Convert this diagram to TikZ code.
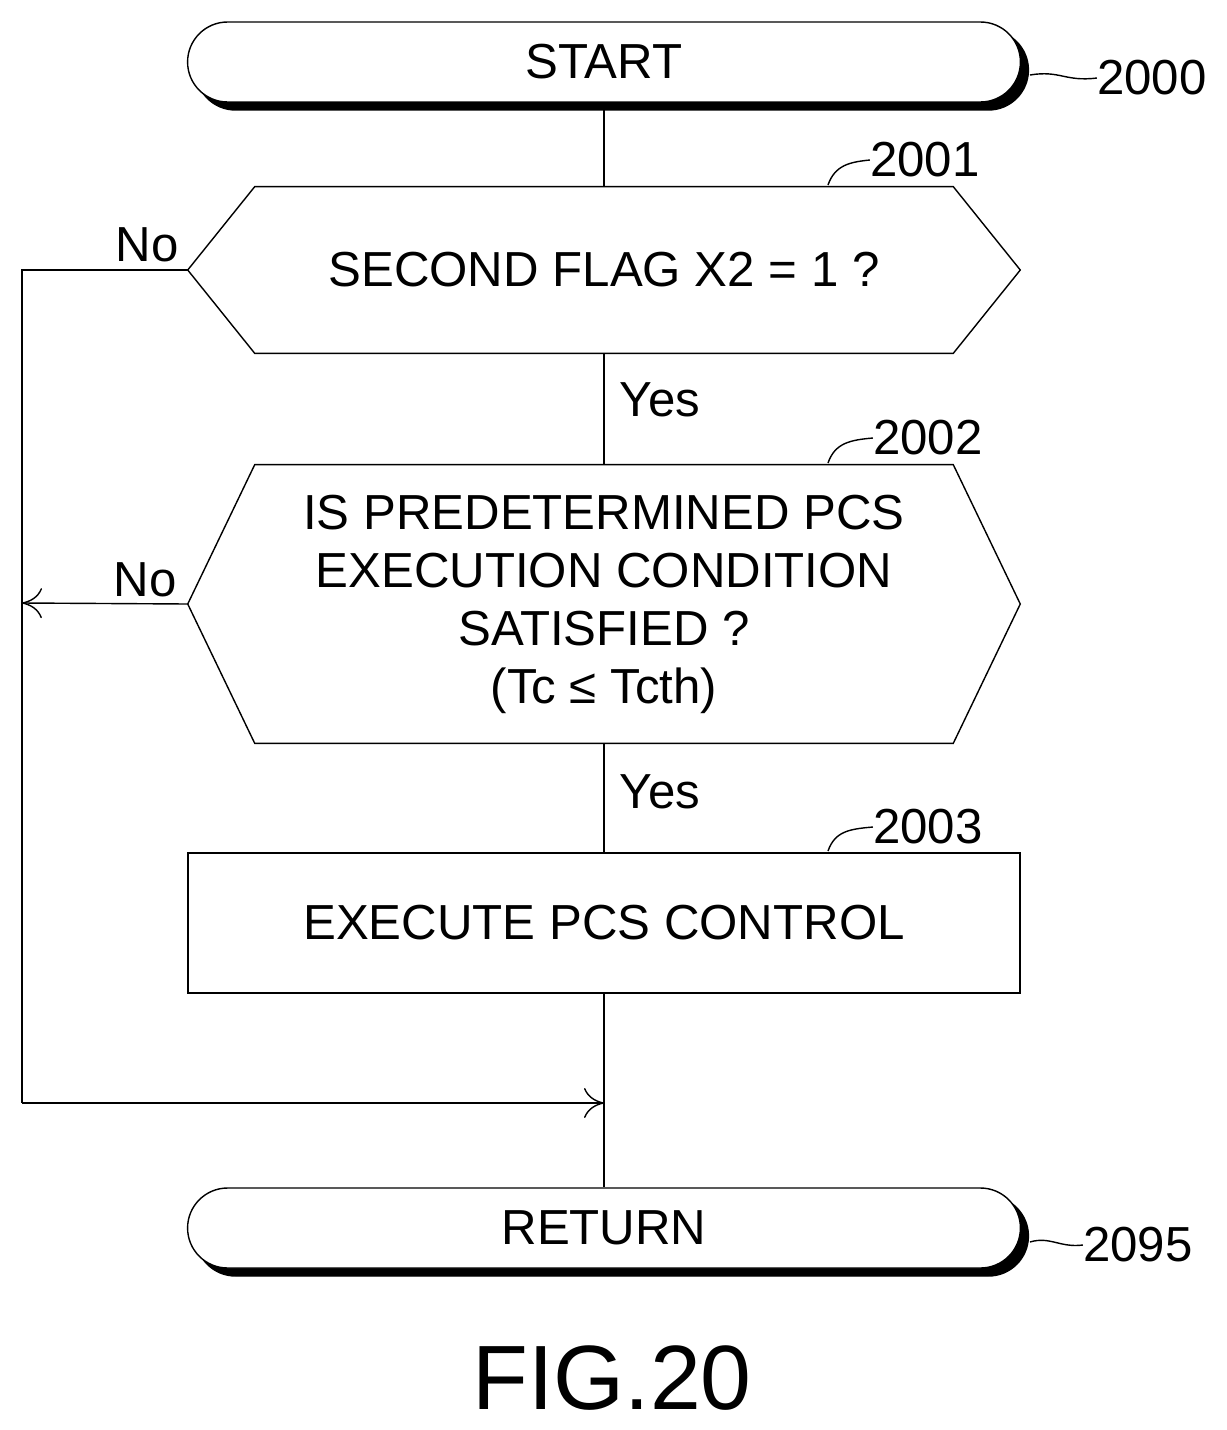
\documentclass[tikz,border=0pt]{standalone}
\usepackage{fontspec}
\setmainfont{Liberation Sans}
\usetikzlibrary{positioning,shapes,arrows.meta}
\begin{document}
\begin{tikzpicture}[x=0.02cm,y=-0.02cm]
            \tikzstyle{terminal}=[rectangle, rounded corners=0.8cm, minimum width=16.66cm, minimum height=1.6cm, inner sep=0pt, thick, draw=black, fill=white, font=\fontsize{28}{30}\selectfont]
            \tikzstyle{decision}=[rectangle, minimum width=16.64cm, inner sep=0pt, font=\fontsize{28}{33}\selectfont, align=center]
            \tikzstyle{process}=[rectangle, minimum width=16.64cm, minimum height=2.8cm, inner sep=0pt, thick, draw=black, font=\fontsize{28}{30}\selectfont]
            \tikzstyle{tag}=[font=\fontsize{28}{30}\selectfont, inner sep=0pt]
            \tikzstyle{connect}=[thick]
            \tikzstyle{flow}=[thick, -{To[length=4mm,width=6mm]}]
            \useasboundingbox (0,0) rectangle (1227,1430);
            % shadows of terminals
            \node[terminal, fill=black] (startshadow) at (612,70) {};
            \node[terminal, fill=black] (retshadow) at (612,1236) {};
            \node[terminal] (start) at (604,62) {START};
            \node[decision, minimum height=3.32cm] (d1) at (604,270) {SECOND FLAG X2 = 1 ?};
            \draw[connect] (d1.west) -- ([xshift=1.34cm]d1.north west) -- ([xshift=-1.34cm]d1.north east) -- (d1.east) -- ([xshift=-1.34cm]d1.south east) -- ([xshift=1.34cm]d1.south west) -- cycle;
            \node[decision, minimum height=5.56cm] (d2) at (604,604) {IS PREDETERMINED PCS\\EXECUTION CONDITION\\SATISFIED ?\\(Tc ≤ Tcth)};
            \draw[connect] (d2.west) -- ([xshift=1.34cm]d2.north west) -- ([xshift=-1.34cm]d2.north east) -- (d2.east) -- ([xshift=-1.34cm]d2.south east) -- ([xshift=1.34cm]d2.south west) -- cycle;
            \node[process] (p1) at (604,923) {EXECUTE PCS CONTROL};
            \node[terminal] (ret) at (604,1228) {RETURN};

            \coordinate (left1) at (22,270);
            \coordinate (left2) at (22,603);
            \coordinate (bot) at (22,1103);
            \coordinate (join) at (604,1103);

            \path[-] (start) edge [connect] (d1);
            \path[-] (d1) edge [connect] (d2);
            \path[-] (d2) edge [connect] (p1);
            \path[-] (p1) edge [connect] (ret);
            \draw[connect] (d1.west) -- (left1) -- (bot);
            \draw[flow] (bot) -- (join);
            \draw[flow] (d2.west) -- (left2);

            \node[tag] (no1) at (147,245) {No};
            \node[tag] (no2) at (145,580) {No};
            \node[tag] (yes1) at (660,400) {Yes};
            \node[tag] (yes2) at (660,792) {Yes};

            \node[tag] (n2000) at (1152,78) {2000};
            \node[tag] (n2001) at (925,160) {2001};
            \node[tag] (n2002) at (928,438) {2002};
            \node[tag] (n2003) at (928,827) {2003};
            \node[tag] (n2095) at (1138,1245) {2095};
            \draw[connect] (1030,75) .. controls (1060,70) and (1065,82) .. (n2000.west);
            \draw[connect] (828,185) .. controls (835,165) and (850,162) .. (n2001.west);
            \draw[connect] (828,463) .. controls (835,443) and (850,440) .. (n2002.west);
            \draw[connect] (828,851) .. controls (835,831) and (850,829) .. (n2003.west);
            \draw[connect] (1030,1242) .. controls (1050,1236) and (1060,1248) .. (n2095.west);

            \node[tag, font=\fontsize{52}{56}\selectfont] (fig) at (612,1378) {FIG.20};
        \end{tikzpicture}
\end{document}
